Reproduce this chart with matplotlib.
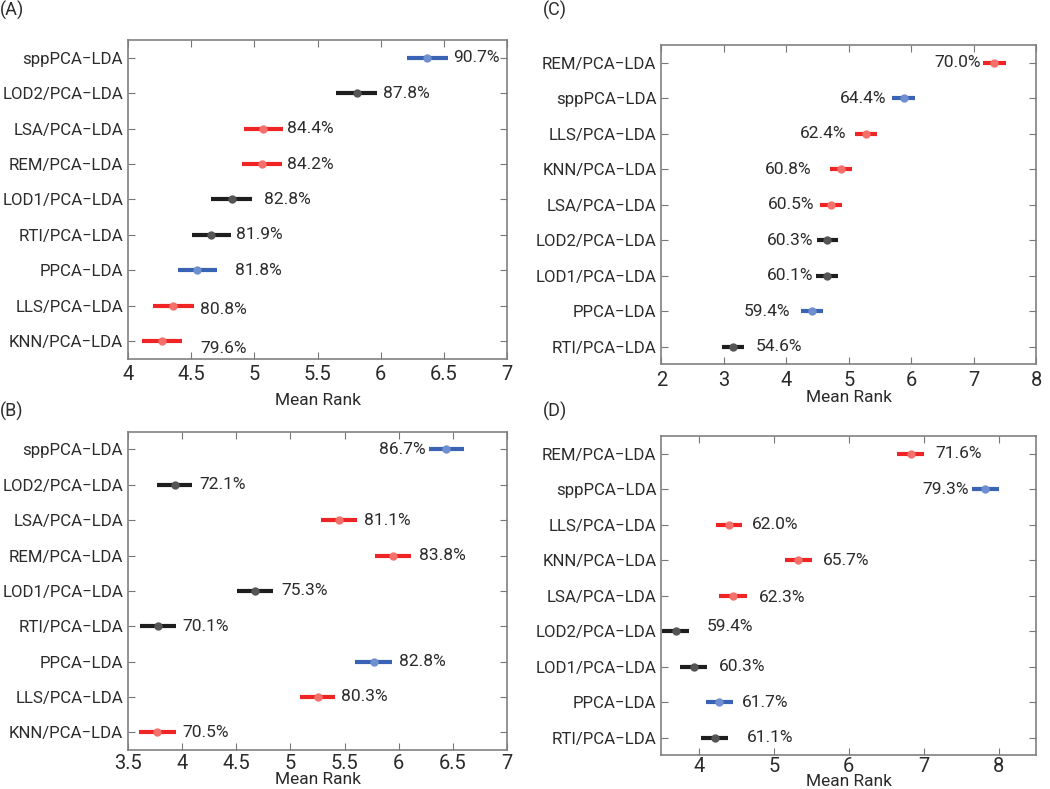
import numpy as np
import matplotlib
matplotlib.use('Agg')
import matplotlib.pyplot as plt

plt.rcParams['font.family'] = ['Roboto', 'DejaVu Sans']

# methods, top to bottom
methods_AB = ['sppPCA\u2212LDA', 'LOD2/PCA\u2212LDA', 'LSA/PCA\u2212LDA', 'REM/PCA\u2212LDA',
              'LOD1/PCA\u2212LDA', 'RTI/PCA\u2212LDA', 'PPCA\u2212LDA', 'LLS/PCA\u2212LDA',
              'KNN/PCA\u2212LDA']
methods_CD = ['REM/PCA\u2212LDA', 'sppPCA\u2212LDA', 'LLS/PCA\u2212LDA', 'KNN/PCA\u2212LDA',
              'LSA/PCA\u2212LDA', 'LOD2/PCA\u2212LDA', 'LOD1/PCA\u2212LDA', 'PPCA\u2212LDA',
              'RTI/PCA\u2212LDA']

rank_A = [6.37, 5.81, 5.07, 5.06, 4.82, 4.66, 4.55, 4.36, 4.27]
err_A = [0.16, 0.16, 0.155, 0.16, 0.16, 0.155, 0.155, 0.16, 0.16]
acc_A = ['90.7%', '87.8%', '84.4%', '84.2%', '82.8%', '81.9%', '81.8%', '80.8%', '79.6%']

rank_B = [6.44, 3.93, 5.45, 5.95, 4.67, 3.78, 5.77, 5.25, 3.77]
err_B = [0.165, 0.165, 0.165, 0.165, 0.165, 0.165, 0.17, 0.165, 0.17]
acc_B = ['86.7%', '72.1%', '81.1%', '83.8%', '75.3%', '70.1%', '82.8%', '80.3%', '70.5%']

rank_C = [7.33, 5.88, 5.27, 4.87, 4.72, 4.66, 4.65, 4.41, 3.15]
err_C = [0.18, 0.18, 0.175, 0.175, 0.18, 0.175, 0.18, 0.175, 0.18]
acc_C = ['70.0%', '64.4%', '62.4%', '60.8%', '60.5%', '60.3%', '60.1%', '59.4%', '54.6%']

rank_D = [6.83, 7.82, 4.40, 5.33, 4.46, 3.69, 3.93, 4.27, 4.21]
err_D = [0.18, 0.18, 0.175, 0.18, 0.185, 0.185, 0.18, 0.18, 0.18]
acc_D = ['71.6%', '79.3%', '62.0%', '65.7%', '62.3%', '59.4%', '60.3%', '61.7%', '61.1%']

RED, BLUE, BLACK = '#ee2524', '#3a63b3', '#1e1e1e'
LIGHT = {RED: '#f5706a', BLUE: '#6e8fd0', BLACK: '#555555'}


def method_color(m):
    if m.startswith('spp') or m.startswith('PPCA'):
        return BLUE
    if m.startswith('LOD') or m.startswith('RTI'):
        return BLACK
    return RED


# label placement: gap from bar end in pixels (negative = left side), extra dy
panels = [
    ('(A)', methods_AB, rank_A, err_A, acc_A, (4, 7), [4, 4.5, 5, 5.5, 6, 6.5, 7],
     ['4', '4.5', '5', '5.5', '6', '6.5', '7'],
     [5, 6, 4, 5, 12, 5, 18, 6, 18], [0, 0, 0, 0, 0, 0, 0, -4, -7],
     [0.1219, 0.545, 0.361, 0.4043], 7, 4, (0.0, 779)),
    ('(B)', methods_AB, rank_B, err_B, acc_B, (3.5, 7), [3.5, 4, 4.5, 5, 5.5, 6, 6.5, 7],
     ['3.5', '4', '4.5', '5', '5.5', '6', '6.5', '7'],
     [-3, 7, 7, 8, 9, 6, 7, 6, 7], [0] * 9,
     [0.1219, 0.0494, 0.361, 0.4034], -1, 3, (0.0, 378)),
    ('(C)', methods_CD, rank_C, err_C, acc_C, (2, 8), [2, 3, 4, 5, 6, 7, 8],
     ['2', '3', '4', '5', '6', '7', '8'],
     [-2, -6, -8, -18, -6, -3, -2, -11, 11], [0] * 9,
     [0.6298, 0.5383, 0.357, 0.4047], 0, 5, (543, 779)),
    ('(D)', methods_CD, rank_D, err_D, acc_D, (3.5, 8.5), [4, 5, 6, 7, 8],
     ['4', '5', '6', '7', '8'],
     [11, -3, 10, 11, 12, 17, 12, 9, 19], [0, 0, 0, 0, -2, 5, 0, 0, 0],
     [0.6298, 0.0427, 0.357, 0.4047], -1.5, 1, (543, 378)),
]

fig = plt.figure(figsize=(10.5, 7.89), dpi=100)
TXT = '#2b2b2b'
FS = 12.5

for (tag, methods, rank, err, acc, xlim, xt, xtl, gaps, dys, pos,
     lpad, tpad, tagxy) in panels:
    ax = fig.add_axes(pos)
    n = len(methods)
    y = np.arange(n, 0, -1)
    for yi, m, r, e, a, g, dy in zip(y, methods, rank, err, acc, gaps, dys):
        c = method_color(m)
        ax.plot([r - e, r + e], [yi, yi], color=c, lw=3.0, solid_capstyle='butt', zorder=2)
        ax.plot(r, yi, 'o', ms=5, mfc=LIGHT[c], mec=LIGHT[c], mew=1.0, zorder=3)
        if g >= 0:
            ax.annotate(a, (r + e, yi), xytext=(g, dy), textcoords='offset pixels',
                        ha='left', va='center', fontsize=FS, color=TXT)
        else:
            ax.annotate(a, (r - e, yi), xytext=(g, dy), textcoords='offset pixels',
                        ha='right', va='center', fontsize=FS, color=TXT)
    ax.set_xlim(*xlim)
    ax.set_ylim(0.5, n + 0.5)
    ax.set_xticks(xt)
    ax.set_xticklabels(xtl)
    ax.set_yticks(y)
    ax.set_yticklabels(methods)
    ax.tick_params(direction='in', length=5, width=0.8, color='#777777',
                   top=True, right=True, labelcolor=TXT)
    ax.tick_params(axis='y', labelsize=12.1, pad=3.5)
    ax.tick_params(axis='x', labelsize=14.5, pad=tpad)
    for s in ax.spines.values():
        s.set_color('#808080')
        s.set_linewidth(1.2)
    ax.set_xlabel('Mean Rank', fontsize=12.5, color=TXT, labelpad=lpad)
    fig.text(tagxy[0] / 1050, tagxy[1] / 789, tag, fontsize=13, color=TXT,
             ha='left', va='center')

fig.savefig('out.png', dpi=100)
